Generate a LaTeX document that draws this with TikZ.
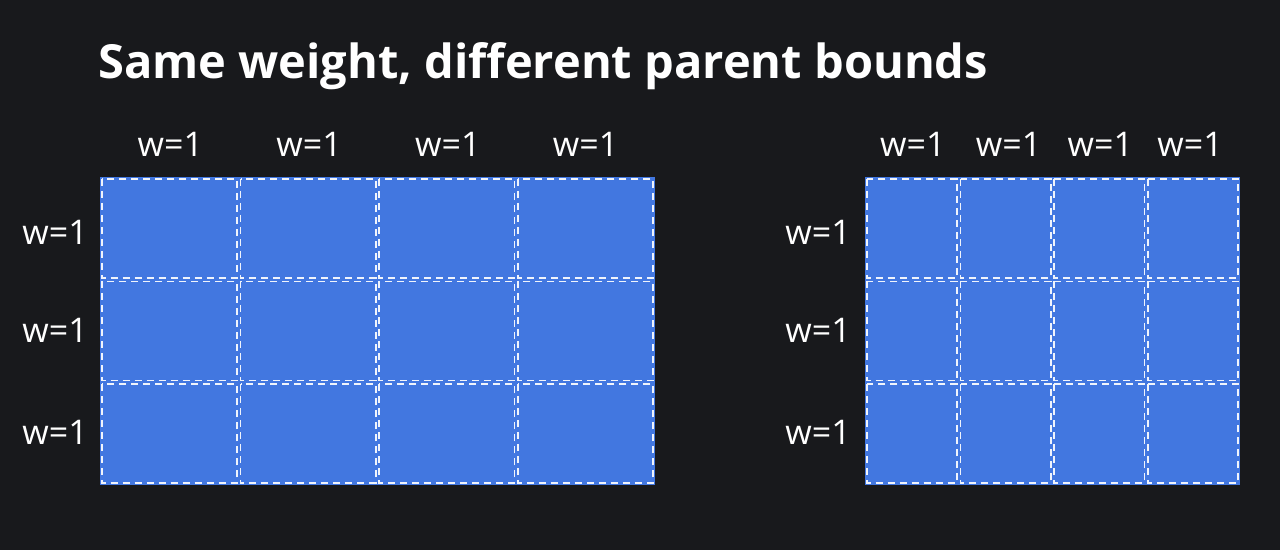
\documentclass[tikz,border=0pt]{standalone}
\usepackage{fontspec}
\setmainfont{Open Sans}
\definecolor{bg}{HTML}{18191C}
\definecolor{cellblue}{HTML}{4277E0}
\tikzset{
  celldash/.style={draw=white, draw opacity=0.92, line width=1.8pt, dash pattern=on 7pt off 5pt},
  wlabel/.style={text=white, font=\fontsize{34}{40}\selectfont, inner sep=0pt},
  titletext/.style={text=white, font=\bfseries\fontsize{47}{54}\selectfont, inner sep=0pt, anchor=base west},
}
\begin{document}
\begin{tikzpicture}[x=1pt,y=-1pt]
\fill[bg] (0,0) rectangle (1280,550);
\useasboundingbox (0,0) rectangle (1280,550);
\node[titletext] (title) at (98,78) {Same weight, different parent bounds};
% left grid
\foreach \i in {0,...,3} {
  \foreach \j in {0,...,2} {
    \pgfmathsetmacro{\xa}{100+\i*138.75}
    \pgfmathsetmacro{\ya}{177+\j*102.67}
    \fill[cellblue] (\xa,\ya) rectangle ++(138.75,102.67);
    \draw[celldash] (\xa+1.8,\ya+1.8) rectangle ++(135.15,99.07);
  }
}
% right grid
\foreach \i in {0,...,3} {
  \foreach \j in {0,...,2} {
    \pgfmathsetmacro{\xa}{865+\i*93.75}
    \pgfmathsetmacro{\ya}{177+\j*102.67}
    \fill[cellblue] (\xa,\ya) rectangle ++(93.75,102.67);
    \draw[celldash] (\xa+1.8,\ya+1.8) rectangle ++(90.15,99.07);
  }
}
% column labels
\foreach \c [count=\k] in {170.4,309.1,447.9,585.6} {
  \node[wlabel, anchor=base] (lc\k) at (\c,156) {w=1};
}
\foreach \c [count=\k] in {912.9,1008.6,1100.4,1190.1} {
  \node[wlabel, anchor=base] (rc\k) at (\c,156) {w=1};
}
% row labels
\foreach \r [count=\k] in {244,342,444} {
  \node[wlabel, anchor=base east] (lr\k) at (88,\r) {w=1};
  \node[wlabel, anchor=base east] (rr\k) at (851,\r) {w=1};
}
\end{tikzpicture}
\end{document}
